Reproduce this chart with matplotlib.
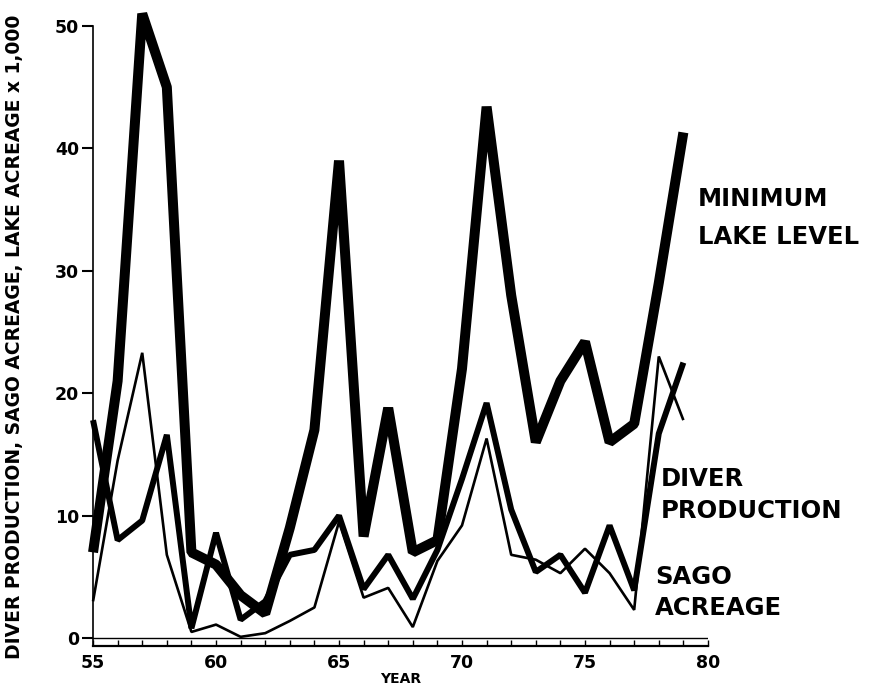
import matplotlib
matplotlib.use("Agg")
import matplotlib.pyplot as plt
from matplotlib.ticker import MultipleLocator

# years 1955-1979, values x 1,000
years = list(range(55, 80))
lake_level = [7, 21, 51, 45, 7, 6, 3.5, 2, 9, 17, 39, 8.3, 18.8, 7, 8,
              22, 43.4, 28, 16, 21, 24.2, 16, 17.5, 29, 41.3]
diver_prod = [17.8, 8, 9.6, 16.6, 0.8, 8.6, 1.5, 3.0, 6.8, 7.2, 10, 4, 6.8, 3.2, 7.2,
              13, 19.2, 10.5, 5.4, 6.8, 3.7, 9.2, 3.9, 16.7, 22.5]
sago_acre = [3, 14.5, 23.3, 6.8, 0.5, 1.1, 0.1, 0.4, 1.4, 2.5, 9.5, 3.3, 4.1, 0.9, 6.3,
             9.2, 16.3, 6.8, 6.4, 5.3, 7.3, 5.3, 2.3, 23, 17.8]
y_ticks = [0, 10, 20, 30, 40, 50]
x_ticks = [55, 60, 65, 70, 75, 80]

plt.rcParams['font.family'] = ['DejaVu Sans']
plt.rcParams['font.weight'] = 'bold'

fig = plt.figure(figsize=(8.81, 6.85), dpi=100)
ax = fig.add_axes([0.1056, 0.0569, 0.698, 0.941])

line_kw = dict(color="black", solid_joinstyle="bevel", solid_capstyle="butt", clip_on=False)
ax.plot(years, sago_acre, linewidth=1.9, **line_kw)
ax.plot(years, diver_prod, linewidth=4.3, **line_kw)
ax.plot(years, lake_level, linewidth=7.2, **line_kw)

ax.set_xlim(55, 80)
ax.set_ylim(-0.65, 52)

# frame: left axis line and a ruler-like bottom axis
ax.spines['top'].set_visible(False)
ax.spines['right'].set_visible(False)
ax.spines['left'].set_bounds(-0.65, 50)
ax.spines['left'].set_linewidth(1.2)
ax.spines['bottom'].set_linewidth(1.6)
ax.axhline(0, color="black", linewidth=1.0)

ax.set_yticks(y_ticks)
ax.set_yticklabels([str(t) for t in y_ticks])
ax.set_xticks(x_ticks)
ax.set_xticklabels([str(t) for t in x_ticks])
ax.xaxis.set_minor_locator(MultipleLocator(1))
ax.tick_params(axis="y", direction="out", length=8, width=1.5, pad=2, labelsize=12.5)
ax.tick_params(axis="x", which="both", direction="in", length=4, width=1.0, pad=6, labelsize=12.5)

ax.set_xlabel("YEAR", fontsize=10, fontweight="bold", labelpad=0)
fig.text(15 / 881, 0.509, "DIVER PRODUCTION, SAGO ACREAGE, LAKE ACREAGE x 1,000",
         rotation=90, ha="center", va="center", fontsize=13.5, fontweight="bold")

lab_kw = dict(fontsize=17.5, fontweight="heavy", ha="left", va="center", clip_on=False)
ax.text(79.6, 34.3, "MINIMUM\nLAKE LEVEL", linespacing=1.75, **lab_kw)
ax.text(78.1, 11.7, "DIVER\nPRODUCTION", linespacing=1.45, **lab_kw)
ax.text(77.85, 3.7, "SAGO\nACREAGE", linespacing=1.35, **lab_kw)

fig.savefig("out.png", dpi=100)
plt.close(fig)
